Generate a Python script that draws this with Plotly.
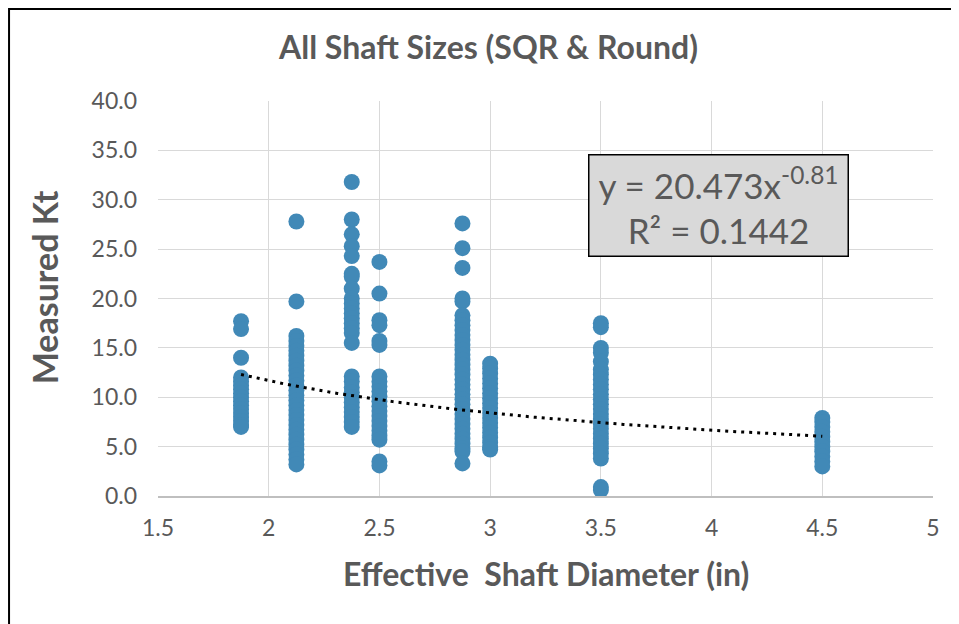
import numpy as np
import plotly.graph_objects as go

# ---- data ----
diameters = [1.875, 2.125, 2.375, 2.5, 2.875, 3.0, 3.5, 4.5]

kt_1875 = [17.7, 16.9, 14.0, 12.0, 11.6, 11.2, 10.8, 10.4, 10.0, 9.6, 9.2, 8.8, 8.4, 8.0, 7.6, 7.2, 7.0]
kt_2125 = [27.8, 19.7, 16.2, 15.7, 15.2, 14.7, 14.2, 13.7, 13.2, 12.7, 12.2, 11.7, 11.2, 10.7, 10.2,
           9.7, 9.2, 8.7, 8.2, 7.7, 7.2, 6.7, 6.2, 5.7, 5.2, 4.7, 4.2, 3.7, 3.2]
kt_2375 = [31.8, 28.0, 26.5, 25.3, 24.3, 22.5, 22.2, 21.0, 20.0, 19.5, 19.0, 18.5, 18.0, 17.5, 17.0,
           16.5, 15.5, 12.1, 11.6, 11.0, 10.5, 10.0, 9.5, 9.0, 8.5, 8.0, 7.5, 7.0]
kt_2500 = [23.7, 20.5, 17.8, 17.3, 15.7, 15.3, 12.1, 11.6, 11.1, 10.6, 10.1, 9.6, 9.1, 8.6, 8.1,
           7.6, 7.1, 6.6, 6.1, 5.7, 3.5, 3.1]
kt_2875 = [27.6, 25.1, 23.1, 20.0, 19.7, 18.3, 17.8, 17.3, 16.8, 16.3, 15.8, 15.3, 14.8, 14.3, 13.8,
           13.3, 12.8, 12.3, 11.8, 11.3, 10.8, 10.3, 9.8, 9.3, 8.8, 8.3, 7.8, 7.3, 6.8, 6.3, 5.8,
           5.3, 4.8, 4.5, 3.3]
kt_3000 = [13.4, 12.9, 12.4, 11.9, 11.4, 10.9, 10.4, 9.9, 9.4, 8.9, 8.4, 7.9, 7.4, 6.9, 6.4, 5.9,
           5.4, 4.9, 4.7]
kt_3500 = [17.5, 17.1, 15.0, 14.5, 13.6, 12.8, 12.3, 11.8, 11.3, 10.8, 10.3, 9.8, 9.3, 8.8, 8.3,
           7.8, 7.3, 6.8, 6.3, 5.8, 5.3, 4.8, 4.3, 3.8, 0.9, 0.6]
kt_4500 = [7.9, 7.5, 7.0, 6.5, 6.0, 5.5, 5.0, 4.5, 4.0, 3.5, 3.0]

kt_by_diameter = [kt_1875, kt_2125, kt_2375, kt_2500, kt_2875, kt_3000, kt_3500, kt_4500]

# power trendline shown on the chart: y = a * x^b
trend_a = 20.473
trend_b = -0.81
trend_r2 = 0.1442

x_ticks = [1.5, 2, 2.5, 3, 3.5, 4, 4.5, 5]
y_ticks = [0, 5, 10, 15, 20, 25, 30, 35, 40]

# ---- build ----
xs, ys = [], []
for d, vals in zip(diameters, kt_by_diameter):
    xs += [d] * len(vals)
    ys += vals

FONT = "Lato"
GRAY = "#595959"

fig = go.Figure()
fig.add_trace(go.Scatter(
    x=xs, y=ys, mode="markers",
    marker=dict(size=16, color="#4189B7", line=dict(width=0)),
    showlegend=False, hoverinfo="x+y"))

tx = np.linspace(min(diameters), max(diameters), 200)
fig.add_trace(go.Scatter(
    x=tx, y=trend_a * tx ** trend_b, mode="lines",
    line=dict(color="black", width=3, dash="3px,5px"),
    showlegend=False, hoverinfo="skip"))

fig.update_layout(
    width=959, height=624,
    margin=dict(l=150, r=34, t=93, b=136),
    paper_bgcolor="white", plot_bgcolor="white",
    font=dict(family=FONT, color=GRAY, size=23),
    xaxis=dict(range=[1.5, 5], tickvals=x_ticks, ticktext=[f"{v:g}" for v in x_ticks],
               showgrid=True, gridcolor="#D9D9D9", gridwidth=1,
               showline=True, linecolor="#BFBFBF", linewidth=1.5,
               zeroline=False, ticks="", ticklen=0, ticklabelstandoff=11,
               tickfont=dict(family=FONT, size=23, color=GRAY)),
    yaxis=dict(range=[0, 40], tickvals=y_ticks, tickformat=".1f",
               showgrid=True, gridcolor="#D9D9D9", gridwidth=1,
               showline=False, zeroline=False, ticks="", ticklabelstandoff=20,
               tickfont=dict(family=FONT, size=23, color=GRAY)),
)

annotations = [
    dict(text="<b>All Shaft Sizes (SQR & Round)</b>", x=0.426, y=1.137,
         xref="paper", yref="paper", showarrow=False,
         font=dict(family=FONT, size=32, color=GRAY), xanchor="center", yanchor="middle"),
    dict(text="<b>Measured Kt</b>", x=-0.146, y=0.528, xref="paper", yref="paper",
         showarrow=False, textangle=-90,
         font=dict(family=FONT, size=34, color=GRAY), xanchor="center", yanchor="middle"),
    dict(text="<b>Effective  Shaft Diameter (in)</b>", x=0.5, y=-0.197,
         xref="paper", yref="paper", showarrow=False,
         font=dict(family=FONT, size=32, color=GRAY), xanchor="center", yanchor="middle"),
    dict(text=f"y = {trend_a}x<sup>{trend_b}</sup><br>R² = {trend_r2}",
         x=0.7226, y=0.7367, xref="paper", yref="paper", showarrow=False,
         font=dict(family=FONT, size=35, color=GRAY),
         bgcolor="#D9D9D9", bordercolor="black", borderwidth=1.5, borderpad=4,
         width=250, height=92, align="center",
         xanchor="center", yanchor="middle"),
]
fig.update_layout(annotations=annotations)

# outer chart frame
fig.add_shape(type="rect", xref="paper", yref="paper",
              x0=-0.1922, x1=1.04, y0=-0.4, y1=1.2329,
              line=dict(color="black", width=2), fillcolor="rgba(0,0,0,0)", layer="above")

fig.write_html("out.html")
